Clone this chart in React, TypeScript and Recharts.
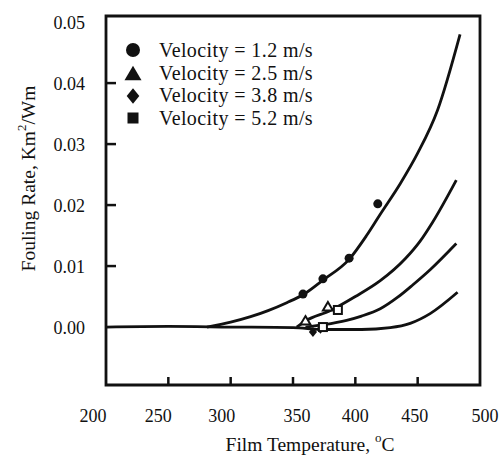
import React from 'react';
import { ComposedChart, Line, Scatter, XAxis, YAxis, ReferenceArea, Legend, Label } from 'recharts';

const tempTicks = [200, 250, 300, 350, 400, 450, 500];
const rateTicks = [0, 0.01, 0.02, 0.03, 0.04, 0.05];
const seriesNames = ['Velocity = 1.2 m/s', 'Velocity = 2.5 m/s', 'Velocity = 3.8 m/s', 'Velocity = 5.2 m/s'];

// measured points
const pts12 = [
  { t: 358, r: 0.0054 },
  { t: 374, r: 0.0079 },
  { t: 395, r: 0.0113 },
  { t: 418, r: 0.0202 },
];
const pts25 = [
  { t: 360, r: 0.0011 },
  { t: 378, r: 0.0034 },
];
const pts38 = [
  { t: 366, r: -0.0008 },
  { t: 372, r: -0.0003 },
];
const pts52 = [
  { t: 374, r: 0.0 },
  { t: 386, r: 0.0028 },
];

// fitted curves
const fit12 = [
  { t: 281, r: 0 }, { t: 300, r: 0.0008 }, { t: 316, r: 0.0017 }, { t: 330, r: 0.0027 },
  { t: 345, r: 0.004 }, { t: 358, r: 0.0053 }, { t: 374, r: 0.0077 }, { t: 395, r: 0.0111 },
  { t: 409, r: 0.015 }, { t: 420, r: 0.0185 }, { t: 436, r: 0.0235 }, { t: 450, r: 0.0285 },
  { t: 466, r: 0.0356 }, { t: 484, r: 0.048 },
];
const fit25 = [
  { t: 353, r: 0 }, { t: 360, r: 0.001 }, { t: 380, r: 0.0027 }, { t: 400, r: 0.005 },
  { t: 420, r: 0.0076 }, { t: 440, r: 0.0112 }, { t: 452, r: 0.0141 }, { t: 462, r: 0.0172 },
  { t: 481, r: 0.0241 },
];
const fit38 = [
  { t: 360, r: 0 }, { t: 375, r: 0.0004 }, { t: 393, r: 0.0011 }, { t: 405, r: 0.0018 },
  { t: 420, r: 0.003 }, { t: 434, r: 0.0049 }, { t: 446, r: 0.0069 }, { t: 460, r: 0.0094 },
  { t: 481, r: 0.0137 },
];
const fit52 = [
  { t: 200, r: 0 }, { t: 250, r: 0.0001 }, { t: 300, r: 0 }, { t: 350, r: -0.0001 },
  { t: 375, r: -0.0004 }, { t: 405, r: -0.0004 }, { t: 428, r: -0.0001 }, { t: 444, r: 0.0006 },
  { t: 460, r: 0.0022 }, { t: 482, r: 0.0057 },
];

const FONT = '"Liberation Serif", "Times New Roman", Times, serif';
const INK = '#111';

const markerKinds: Record<string, string> = {
  [seriesNames[0]]: 'circle',
  [seriesNames[1]]: 'triangle',
  [seriesNames[2]]: 'diamond',
  [seriesNames[3]]: 'square',
};

function marker(kind: string, cx: number, cy: number, s: number, filled: boolean) {
  const fill = filled ? INK : '#fff';
  const sw = filled ? 0 : 2;
  if (kind === 'circle') return <circle cx={cx} cy={cy} r={s / 2} fill={INK} />;
  if (kind === 'triangle') {
    const h = s * 0.85;
    return <path d={`M${cx},${cy - h / 2}L${cx + s / 2},${cy + h / 2}L${cx - s / 2},${cy + h / 2}Z`} fill={fill} stroke={INK} strokeWidth={sw} />;
  }
  if (kind === 'diamond') {
    return <path d={`M${cx},${cy - s * 0.55}L${cx + s * 0.45},${cy}L${cx},${cy + s * 0.55}L${cx - s * 0.45},${cy}Z`} fill={INK} />;
  }
  return <rect x={cx - s / 2} y={cy - s / 2} width={s} height={s} fill={fill} stroke={INK} strokeWidth={sw} />;
}

const scatterShape = (kind: string, s: number, filled: boolean) => (props: any) => (
  <g>{marker(kind, props.cx, props.cy, s, filled)}</g>
);

// hand-lettered tick labels sit a little off their marks
const xLabelShift: Record<number, number> = { 200: -13, 250: -10, 300: -9, 350: 4, 400: 0, 450: -3, 500: 5 };

const XTick = (props: any) => {
  const { x, y, payload } = props;
  const v = payload.value;
  const axisY = y - 24;
  return (
    <g>
      {v > 200 && v < 500 && <line x1={x} x2={x} y1={axisY} y2={axisY - 8} stroke={INK} strokeWidth={2.5} />}
      <text x={x + (xLabelShift[v] || 0)} y={y} dy="0.71em" textAnchor="middle" style={{ fontFamily: FONT, fontSize: 18 }} fill={INK}>
        {v}
      </text>
    </g>
  );
};

const YTick = (props: any) => {
  const { x, y, payload } = props;
  const v = payload.value;
  const axisX = x + 21;
  return (
    <g>
      {v > 0.001 && v < 0.045 && <line x1={axisX} x2={axisX + 10} y1={y} y2={y} stroke={INK} strokeWidth={2.5} />}
      <text x={x} y={y} dy="0.36em" textAnchor="end" style={{ fontFamily: FONT, fontSize: 18 }} fill={INK}>
        {v.toFixed(2)}
      </text>
    </g>
  );
};

const renderLegend = (props: any) => {
  const items = (props.payload || []).filter((p: any) => markerKinds[p.value]);
  return (
    <div style={{ fontFamily: FONT, fontSize: 20, letterSpacing: 0.4, color: INK }}>
      {items.map((p: any) => (
        <div key={p.value} style={{ display: 'flex', alignItems: 'center', height: 22.7, whiteSpace: 'nowrap' }}>
          <svg width={18} height={18} style={{ marginRight: 17 }}>
            {marker(markerKinds[p.value], 9, 9, markerKinds[p.value] === 'square' ? 11 : markerKinds[p.value] === 'triangle' ? 17 : 14, true)}
          </svg>
          <span style={{ fontFamily: FONT }}>{p.value}</span>
        </div>
      ))}
    </div>
  );
};

const YTitle = (props: any) => {
  const vb = props.viewBox;
  const cx = vb.x + 28;
  const cy = vb.y + vb.height / 2 - 22;
  return (
    <text x={cx} y={cy} transform={`rotate(-90 ${cx} ${cy})`} textAnchor="middle" dominantBaseline="central" style={{ fontFamily: FONT, fontSize: 19.5 }} fill={INK}>
      Fouling Rate, Km<tspan dy={-7} fontSize={13}>2</tspan>
      <tspan dy={7}>/Wm</tspan>
    </text>
  );
};

const XTitle = (props: any) => {
  const vb = props.viewBox;
  const cx = vb.x + vb.width / 2 + 17;
  const cy = vb.y + 59;
  return (
    <text x={cx} y={cy} textAnchor="middle" dominantBaseline="central" style={{ fontFamily: FONT, fontSize: 19.5 }} fill={INK}>
      Film Temperature, <tspan dy={-7} fontSize={13}>o</tspan>
      <tspan dy={7}>C</tspan>
    </text>
  );
};

export default function App() {
  return (
    <div style={{ position: 'absolute', left: 0, top: 0, background: '#fff', fontFamily: FONT }}>
      <ComposedChart width={500} height={457} margin={{ top: 16, right: 20, bottom: 0, left: 0 }} style={{ fontFamily: FONT }}>
        <XAxis
          type="number"
          dataKey="t"
          domain={[200, 500]}
          ticks={tempTicks}
          interval={0}
          allowDataOverflow
          axisLine={false}
          tickLine={false}
          tickSize={0}
          tickMargin={24}
          height={72}
          tick={<XTick />}
        >
          <Label content={<XTitle />} />
        </XAxis>
        <YAxis
          type="number"
          dataKey="r"
          domain={[-0.0095, 0.051]}
          ticks={rateTicks}
          interval={0}
          allowDataOverflow
          axisLine={false}
          tickLine={false}
          tickSize={0}
          tickMargin={21}
          width={106}
          tick={<YTick />}
        >
          <Label content={<YTitle />} />
        </YAxis>
        <ReferenceArea x1={200} x2={500} y1={-0.0095} y2={0.051} fill="none" stroke={INK} strokeWidth={2.8} />
        <Line data={fit12} dataKey="r" type="monotone" stroke={INK} strokeWidth={2.8} dot={false} legendType="none" isAnimationActive={false} />
        <Line data={fit25} dataKey="r" type="monotone" stroke={INK} strokeWidth={2.8} dot={false} legendType="none" isAnimationActive={false} />
        <Line data={fit38} dataKey="r" type="monotone" stroke={INK} strokeWidth={2.8} dot={false} legendType="none" isAnimationActive={false} />
        <Line data={fit52} dataKey="r" type="monotone" stroke={INK} strokeWidth={2.8} dot={false} legendType="none" isAnimationActive={false} />
        <Scatter name={seriesNames[0]} data={pts12} dataKey="r" fill={INK} shape={scatterShape('circle', 9, true)} isAnimationActive={false} />
        <Scatter name={seriesNames[1]} data={pts25} dataKey="r" fill={INK} shape={scatterShape('triangle', 10, false)} isAnimationActive={false} />
        <Scatter name={seriesNames[2]} data={pts38} dataKey="r" fill={INK} shape={scatterShape('diamond', 9, true)} isAnimationActive={false} />
        <Scatter name={seriesNames[3]} data={pts52} dataKey="r" fill={INK} shape={scatterShape('square', 8, false)} isAnimationActive={false} />
        <Legend
          layout="vertical"
          align="center"
          verticalAlign="middle"
          content={renderLegend}
          wrapperStyle={{ position: 'absolute', left: 124, top: 39, width: 'auto', height: 'auto' }}
        />
      </ComposedChart>
    </div>
  );
}
